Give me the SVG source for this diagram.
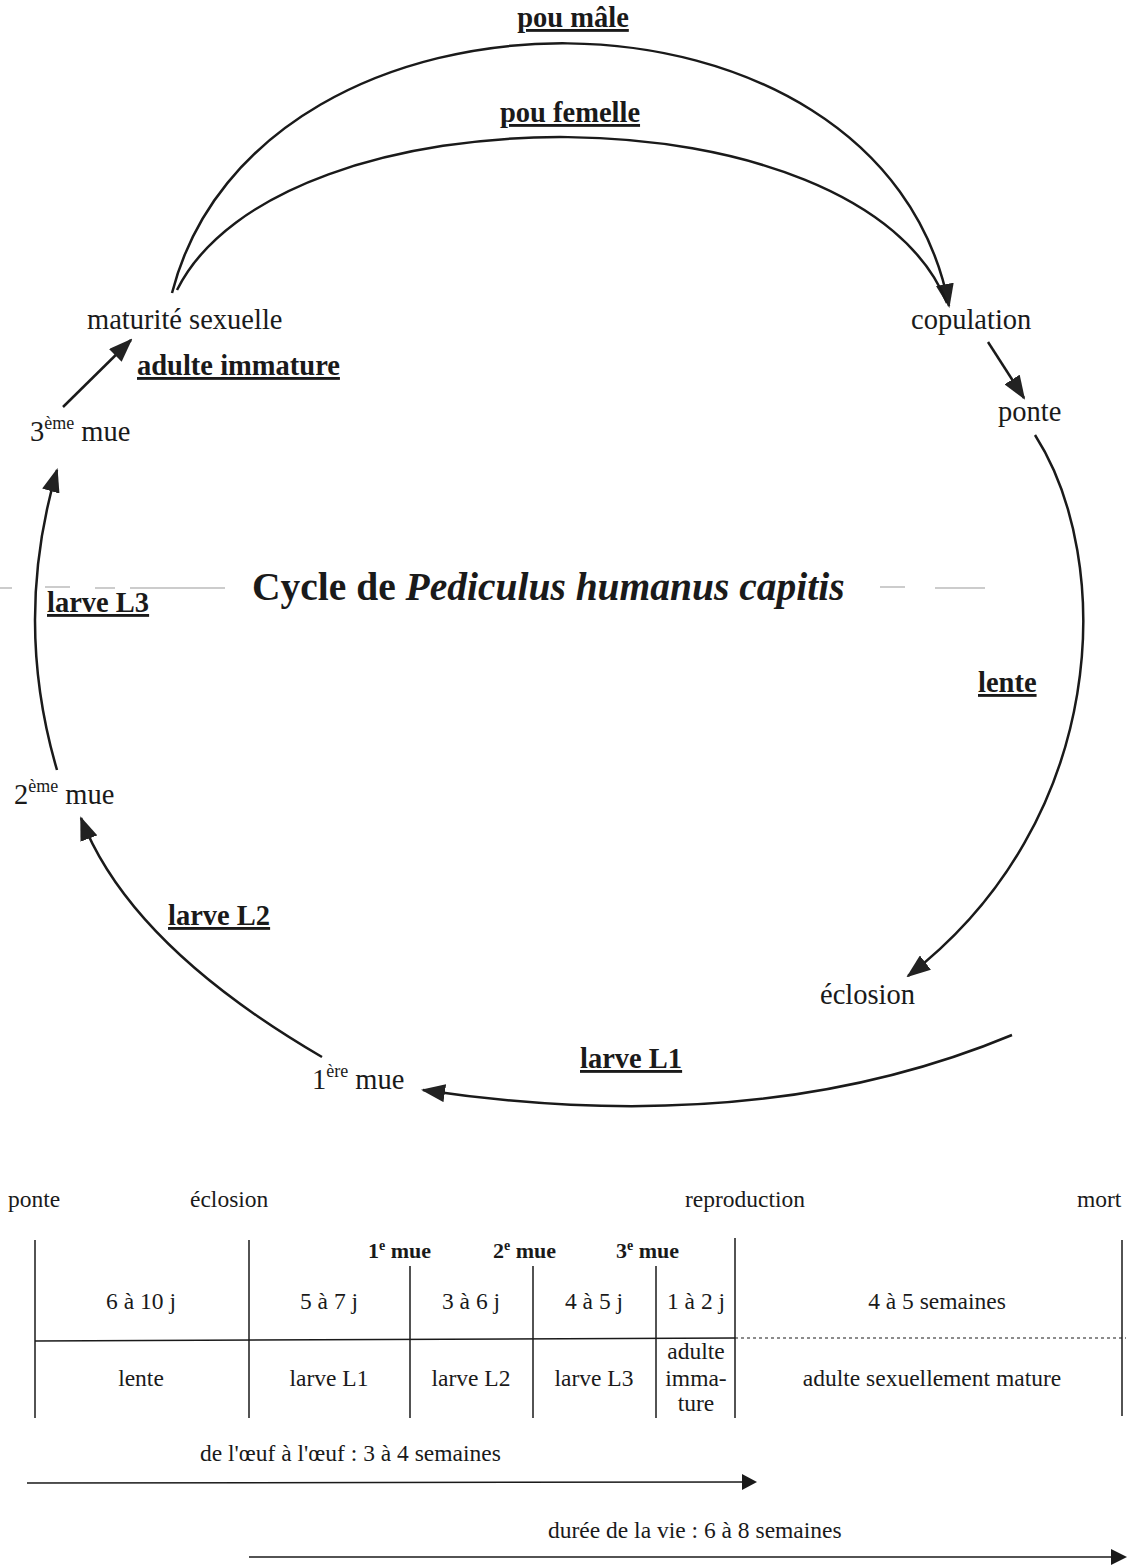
<svg xmlns="http://www.w3.org/2000/svg" width="1133" height="1565" viewBox="0 0 1133 1565">
<defs>
<marker id="ah" markerWidth="24" markerHeight="18" refX="22" refY="9" orient="auto" markerUnits="userSpaceOnUse">
<path d="M0,0 L24,9 L0,18 Z" fill="#222"/>
</marker>
<style>
.t{font-family:"Liberation Serif","Times New Roman",serif;fill:#1a1a1a;font-size:28.5px}
.b{font-family:"Liberation Serif","Times New Roman",serif;fill:#1a1a1a;font-size:28.5px;font-weight:bold;text-decoration:underline}
.s{font-family:"Liberation Serif","Times New Roman",serif;fill:#1a1a1a;font-size:23.5px}
.sb{font-family:"Liberation Serif","Times New Roman",serif;fill:#1a1a1a;font-size:22px;font-weight:bold}
.sup{font-size:18px}
.c{fill:none;stroke:#1a1a1a;stroke-width:2.5}
.l{fill:none;stroke:#1a1a1a;stroke-width:1.5}
.g{stroke:#bbb;stroke-width:1.5}
</style>
</defs>
<rect width="1133" height="1565" fill="#fff"/>
<g id="scan-artifacts">
<line class="g" x1="0" y1="588" x2="12" y2="588"/>
<line class="g" x1="45" y1="587" x2="70" y2="587"/>
<line class="g" x1="95" y1="588" x2="115" y2="588"/>
<line class="g" x1="130" y1="588" x2="225" y2="588"/>
<line class="g" x1="880" y1="587" x2="905" y2="587"/>
<line class="g" x1="935" y1="588" x2="985" y2="588"/>
</g>
<g id="connectors">
<path class="c" d="M172,293 C258,-42 882,-42 949,306" marker-end="url(#ah)"/>
<path class="c" d="M177,290 C280,84 860,84 947,303"/>
<path class="c" d="M988,342 L1024,398" marker-end="url(#ah)"/>
<path class="c" d="M1035,435 C1115,560 1110,820 908,976" marker-end="url(#ah)"/>
<path class="c" d="M1012,1035 Q760,1140 423,1090" marker-end="url(#ah)"/>
<path class="c" d="M322,1057 Q130,945 81,818" marker-end="url(#ah)"/>
<path class="c" d="M57,770 Q13,620 57,470" marker-end="url(#ah)"/>
<path class="c" d="M63,407 L131,340" marker-end="url(#ah)"/>
</g>
<g id="title"><text x="252" y="600" font-family="Liberation Serif,serif" font-size="39.5" font-weight="bold" fill="#1a1a1a">Cycle de <tspan font-style="italic">Pediculus humanus capitis</tspan></text></g>
<g id="n-pou-male"><text class="b" x="573" y="27" text-anchor="middle">pou mâle</text></g>
<g id="n-pou-femelle"><text class="b" x="570" y="122" text-anchor="middle">pou femelle</text></g>
<g id="n-maturite"><text class="t" x="87" y="329">maturité sexuelle</text></g>
<g id="n-copulation"><text class="t" x="911" y="329">copulation</text></g>
<g id="n-adulte-immature"><text class="b" x="137" y="375">adulte immature</text></g>
<g id="n-mue3"><text class="t" x="30" y="441">3<tspan class="sup" dy="-12">ème</tspan><tspan dy="12"> mue</tspan></text></g>
<g id="n-ponte"><text class="t" x="998" y="421">ponte</text></g>
<g id="n-larve-l3"><text class="b" x="47" y="612">larve L3</text></g>
<g id="n-lente"><text class="b" x="978" y="692">lente</text></g>
<g id="n-mue2"><text class="t" x="14" y="804">2<tspan class="sup" dy="-12">ème</tspan><tspan dy="12"> mue</tspan></text></g>
<g id="n-larve-l2"><text class="b" x="168" y="925">larve L2</text></g>
<g id="n-eclosion"><text class="t" x="820" y="1004">éclosion</text></g>
<g id="n-larve-l1"><text class="b" x="580" y="1068">larve L1</text></g>
<g id="n-mue1"><text class="t" x="312" y="1089">1<tspan class="sup" dy="-12">ère</tspan><tspan dy="12"> mue</tspan></text></g>
<g id="timeline">
<text class="s" x="8" y="1207">ponte</text>
<text class="s" x="190" y="1207">éclosion</text>
<text class="s" x="685" y="1207">reproduction</text>
<text class="s" x="1077" y="1207">mort</text>
<line class="l" x1="35" y1="1240" x2="35" y2="1418"/>
<line class="l" x1="249" y1="1240" x2="249" y2="1418"/>
<line class="l" x1="410" y1="1266" x2="410" y2="1418"/>
<line class="l" x1="533" y1="1266" x2="533" y2="1418"/>
<line class="l" x1="656" y1="1266" x2="656" y2="1418"/>
<line class="l" x1="735" y1="1238" x2="735" y2="1418"/>
<line class="l" x1="1122" y1="1240" x2="1122" y2="1416"/>
<text class="sb" x="368" y="1258">1<tspan font-size="14" dy="-8">e</tspan><tspan dy="8"> mue</tspan></text>
<text class="sb" x="493" y="1258">2<tspan font-size="14" dy="-8">e</tspan><tspan dy="8"> mue</tspan></text>
<text class="sb" x="616" y="1258">3<tspan font-size="14" dy="-8">e</tspan><tspan dy="8"> mue</tspan></text>
<text class="s" x="141" y="1309" text-anchor="middle">6 à 10 j</text>
<text class="s" x="329" y="1309" text-anchor="middle">5 à 7 j</text>
<text class="s" x="471" y="1309" text-anchor="middle">3 à 6 j</text>
<text class="s" x="594" y="1309" text-anchor="middle">4 à 5 j</text>
<text class="s" x="696" y="1309" text-anchor="middle">1 à 2 j</text>
<text class="s" x="937" y="1309" text-anchor="middle">4 à 5 semaines</text>
<line class="l" x1="35" y1="1341" x2="735" y2="1338"/>
<line x1="735" y1="1338" x2="1126" y2="1338" stroke="#1a1a1a" stroke-width="1.2" stroke-dasharray="3,3"/>
<text class="s" x="141" y="1386" text-anchor="middle">lente</text>
<text class="s" x="329" y="1386" text-anchor="middle">larve L1</text>
<text class="s" x="471" y="1386" text-anchor="middle">larve L2</text>
<text class="s" x="594" y="1386" text-anchor="middle">larve L3</text>
<text class="s" x="696" y="1359" text-anchor="middle">adulte</text>
<text class="s" x="696" y="1386" text-anchor="middle">imma-</text>
<text class="s" x="696" y="1411" text-anchor="middle">ture</text>
<text class="s" x="932" y="1386" text-anchor="middle">adulte sexuellement mature</text>
<text class="s" x="200" y="1461">de l'œuf à l'œuf : 3 à 4 semaines</text>
<path d="M27,1483 L745,1482" class="l"/>
<path d="M757,1482 L742,1474 L742,1490 Z" fill="#1a1a1a"/>
<text class="s" x="548" y="1538">durée de la vie : 6 à 8 semaines</text>
<path d="M249,1557 L1113,1557" class="l"/>
<path d="M1127,1557 L1111,1549 L1111,1565 Z" fill="#1a1a1a"/>
</g>
</svg>
